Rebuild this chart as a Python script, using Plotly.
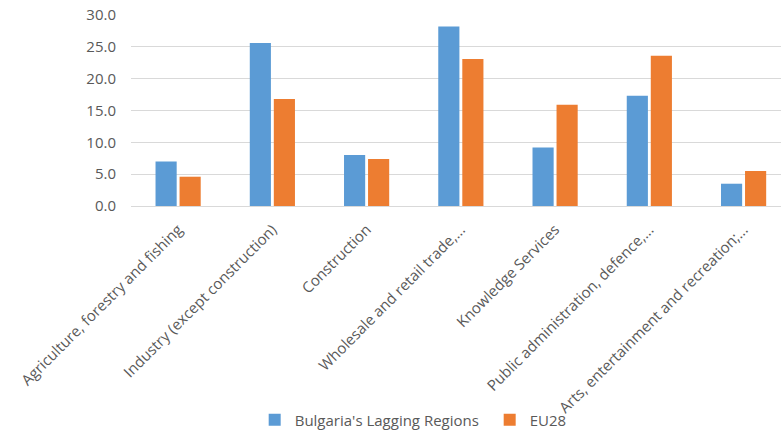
import plotly.graph_objects as go

categories = [
    "Agriculture, forestry and fishing",
    "Industry (except construction)",
    "Construction",
    "Wholesale and retail trade,...",
    "Knowledge Services",
    "Public administration, defence,...",
    "Arts, entertainment and recreation;...",
]
bulgaria = [7.0, 25.6, 8.0, 28.2, 9.2, 17.3, 3.5]
eu28 = [4.6, 16.8, 7.4, 23.1, 15.9, 23.6, 5.5]
y_ticks = [0, 5, 10, 15, 20, 25, 30]

fig = go.Figure()
fig.add_trace(go.Bar(x=categories, y=bulgaria, name="Bulgaria's Lagging Regions",
                     marker=dict(color="#5B9BD5", line=dict(width=0))))
fig.add_trace(go.Bar(x=categories, y=eu28, name="EU28",
                     marker=dict(color="#ED7D31", line=dict(width=0))))

font_family = "Open Sans, Liberation Sans, sans-serif"
fig.update_layout(
    width=781, height=432,
    margin=dict(l=131, r=0, t=15, b=226, autoexpand=False),
    paper_bgcolor="white", plot_bgcolor="white",
    barmode="group", bargap=0.49, bargroupgap=0.12,
    font=dict(family=font_family, color="#595959", size=15),
    showlegend=True,
    legend=dict(orientation="h", x=0.627, xanchor="center", xref="container",
                y=0.028, yanchor="middle", yref="container",
                bgcolor="rgba(0,0,0,0)", entrywidth=190, entrywidthmode="pixels",
                font=dict(size=15, color="#595959"), itemwidth=30,
                traceorder="normal"),
    xaxis=dict(tickangle=-45, showgrid=False, showline=True, linecolor="#d9d9d9",
               linewidth=1, ticks="", ticklabelstandoff=8, range=[-0.5, 6.397],
               tickfont=dict(size=15, color="#595959")),
    yaxis=dict(range=[0, 30], tickvals=y_ticks, ticktext=[f"{v:.1f}" for v in y_ticks],
               showgrid=True, gridcolor="#d9d9d9", gridwidth=1, zeroline=False,
               showline=False, ticks="", ticklabelstandoff=14,
               tickfont=dict(size=15, color="#595959")),
)
fig.write_html("out.html", config={"displayModeBar": False},
               post_script="document.body.style.margin='0px';")
